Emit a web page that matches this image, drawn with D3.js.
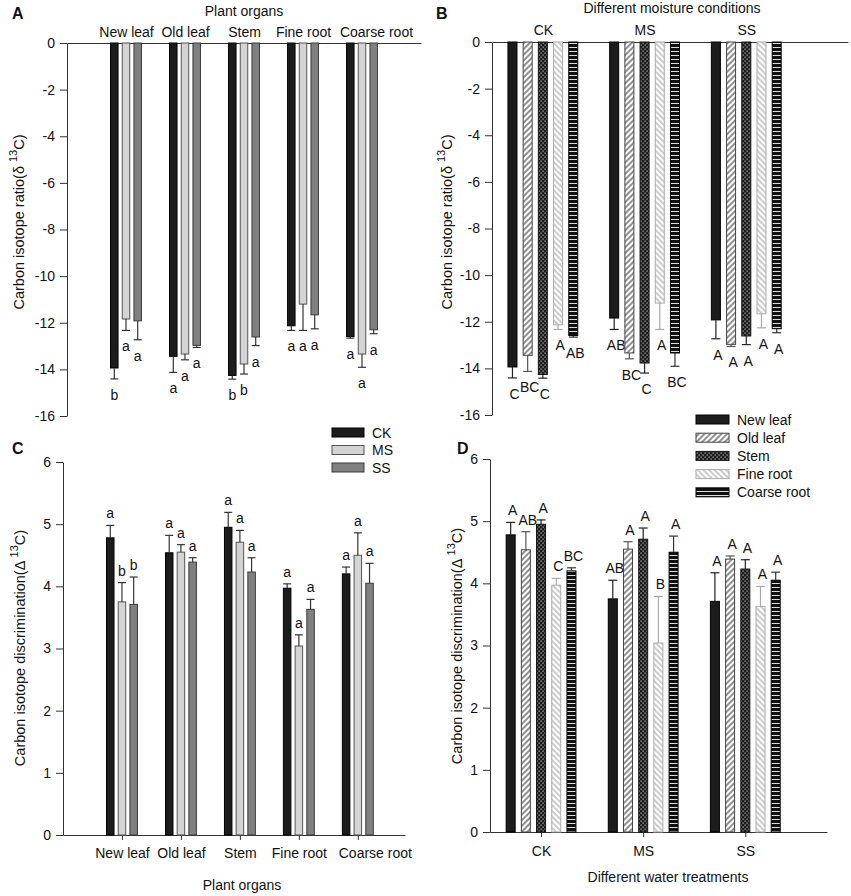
<!DOCTYPE html>
<html lang="en">
<head>
    <meta charset="UTF-8">
    <title>Carbon isotope</title>
    <script src="https://d3js.org/d3.v7.min.js"></script>
    <style>
        body { margin: 0; background: #fff; }
        text { font-family: "Liberation Sans", Arial, sans-serif; fill: #111; }
    </style>
</head>
<body>
<div id="chart"></div>
<script>

    // ---- data ----
    var organs = ["New leaf", "Old leaf", "Stem", "Fine root", "Coarse root"];
    var treatments = ["CK", "MS", "SS"];

    // rows = organ, cols = CK, MS, SS
    var delta13C = [
        [-13.94, -11.84, -11.92],
        [-13.44, -13.34, -12.97],
        [-14.26, -13.77, -12.61],
        [-12.13, -11.20, -11.66],
        [-12.59, -13.34, -12.30]
    ];
    var delta13Cse = [
        [0.47, 0.49, 0.81],
        [0.69, 0.25, 0.09],
        [0.16, 0.43, 0.37],
        [0.20, 1.13, 0.60],
        [0.07, 0.57, 0.17]
    ];
    var discrim = [
        [4.78, 3.75, 3.71],
        [4.54, 4.55, 4.39],
        [4.95, 4.71, 4.23],
        [3.97, 3.04, 3.63],
        [4.20, 4.50, 4.05]
    ];
    var discrimSeC = [
        [0.20, 0.31, 0.44],
        [0.28, 0.12, 0.07],
        [0.24, 0.19, 0.23],
        [0.07, 0.18, 0.16],
        [0.11, 0.36, 0.32]
    ];
    var discrimSeD = [
        [0.20, 0.30, 0.46],
        [0.29, 0.12, 0.05],
        [0.07, 0.18, 0.15],
        [0.11, 0.75, 0.32],
        [0.05, 0.26, 0.13]
    ];
    var lettersA = [["b","a","a"], ["a","a","a"], ["b","b","a"], ["a","a","a"], ["a","a","a"]];
    var lettersB = [["C","AB","A"], ["BC","BC","A"], ["C","C","A"], ["A","A","A"], ["AB","BC","A"]];
    var lettersC = [["a","b","b"], ["a","a","a"], ["a","a","a"], ["a","a","a"], ["a","a","a"]];
    var lettersD = [["A","AB","A"], ["AB","A","A"], ["A","A","A"], ["C","B","A"], ["BC","A","A"]];

    var ticksDelta = [0, -2, -4, -6, -8, -10, -12, -14, -16];
    var ticksDiscrim = [0, 1, 2, 3, 4, 5, 6];

    // ---- styles ----
    var trFill = ["#1c1c1c", "#d4d4d4", "#808080"];
    var trStroke = ["#000", "#555", "#3a3a3a"];
    var orgFill = ["#1c1c1c", "url(#pOld)", "url(#pStem)", "url(#pFine)", "url(#pCoarse)"];
    var orgStroke = ["#000", "#444", "#111", "#aaa", "#000"];
    var orgErr = ["#222", "#555", "#222", "#aaa", "#333"];

    var W = 851, H = 896;
    var svg = d3.select("#chart")
        .append("svg")
        .attr("width", W)
        .attr("height", H);

    var defs = svg.append("defs");

    function hatch(id, angle, color, width) {
        var p = defs.append("pattern")
            .attr("id", id)
            .attr("patternUnits", "userSpaceOnUse")
            .attr("width", 4).attr("height", 4)
            .attr("patternTransform", "rotate(" + angle + ")");
        p.append("rect").attr("width", 4).attr("height", 4).attr("fill", "#fff");
        p.append("line").attr("x1", 1).attr("y1", 0).attr("x2", 1).attr("y2", 4)
            .attr("stroke", color).attr("stroke-width", width);
    }
    hatch("pOld", 45, "#333", 1.1);
    hatch("pFine", -45, "#999", 1);

    var ps = defs.append("pattern")
        .attr("id", "pStem")
        .attr("patternUnits", "userSpaceOnUse")
        .attr("width", 4).attr("height", 4);
    ps.append("rect").attr("width", 4).attr("height", 4).attr("fill", "#1e1e1e");
    ps.append("rect").attr("x", 0.5).attr("y", 0.5).attr("width", 1.2).attr("height", 1.2).attr("fill", "#bbb");
    ps.append("rect").attr("x", 2.5).attr("y", 2.5).attr("width", 1.2).attr("height", 1.2).attr("fill", "#bbb");

    var pc = defs.append("pattern")
        .attr("id", "pCoarse")
        .attr("patternUnits", "userSpaceOnUse")
        .attr("width", 4).attr("height", 4);
    pc.append("rect").attr("width", 4).attr("height", 4).attr("fill", "#111");
    pc.append("rect").attr("y", 3).attr("width", 4).attr("height", 1).attr("fill", "#ddd");

    // ---- helpers ----
    function yAxis(g, y, ticks) {
        var ax = g.append("g")
            .attr("transform", "translate(" + y.x0 + ",0)")
            .call(d3.axisLeft(y).tickValues(ticks).tickSize(7).tickSizeOuter(0).tickPadding(5)
                .tickFormat(function (d) { return String(d); }));
        ax.selectAll("text").style("font-size", "14px").attr("font-family", null);
        ax.selectAll("line,path").attr("stroke", "#333");
    }

    function yTitle(g, x, cy, main) {
        var t = g.append("text")
            .attr("transform", "translate(" + x + "," + cy + ") rotate(-90)")
            .attr("text-anchor", "middle")
            .style("font-size", "14.5px");
        t.append("tspan").text(main + " ");
        t.append("tspan").attr("dy", -7).style("font-size", "11px").text("13");
        t.append("tspan").attr("dy", 7).text("C)");
    }

    function drawBars(g, items, y) {
        var y0 = y(0);
        var grp = g.selectAll("g.bar")
            .data(items)
            .enter()
            .append("g")
            .attr("class", "bar");

        grp.append("rect")
            .attr("x", function (d) { return d.cx - d.w / 2; })
            .attr("y", function (d) { return Math.min(y0, y(d.v)); })
            .attr("width", function (d) { return d.w; })
            .attr("height", function (d) { return Math.abs(y(d.v) - y0); })
            .attr("fill", function (d) { return d.fill; })
            .attr("stroke", function (d) { return d.stroke; })
            .attr("stroke-width", 1);

        function errEnd(d) { return d.v < 0 ? d.v - d.se : d.v + d.se; }

        grp.append("line")
            .attr("x1", function (d) { return d.cx; })
            .attr("x2", function (d) { return d.cx; })
            .attr("y1", function (d) { return y(d.v); })
            .attr("y2", function (d) { return y(errEnd(d)); })
            .attr("stroke", function (d) { return d.err; })
            .attr("stroke-width", 1.2);

        grp.append("line")
            .attr("x1", function (d) { return d.cx - d.cap / 2; })
            .attr("x2", function (d) { return d.cx + d.cap / 2; })
            .attr("y1", function (d) { return y(errEnd(d)); })
            .attr("y2", function (d) { return y(errEnd(d)); })
            .attr("stroke", function (d) { return d.err; })
            .attr("stroke-width", 1.2);

        grp.append("text")
            .attr("x", function (d) { return d.cx + (d.lx || 0); })
            .attr("y", function (d) {
                return d.v < 0 ? y(errEnd(d)) + 21 : y(errEnd(d)) - 7;
            })
            .attr("text-anchor", "middle")
            .style("font-size", "14px")
            .text(function (d) { return d.letter; });
    }

    function panelLetter(x, y, s) {
        svg.append("text").attr("x", x).attr("y", y)
            .style("font-size", "16px").style("font-weight", "bold").text(s);
    }

    // ===== Panel A =====
    var gA = svg.append("g");
    var xA = d3.scaleLinear().domain([0, 6]).range([67, 421]);
    var yA = d3.scaleLinear().domain([0, -16]).range([43, 416]);
    yA.x0 = 67;
    yAxis(gA, yA, ticksDelta);
    var topA = gA.append("g")
        .attr("transform", "translate(0," + yA(0) + ")")
        .call(d3.axisTop(xA).tickValues([1, 2, 3, 4, 5]).tickSize(0).tickSizeOuter(0).tickPadding(6)
            .tickFormat(function (i) { return organs[i - 1]; }));
    topA.selectAll("text").style("font-size", "14px").attr("font-family", null)
        .attr("dx", function (i) { return i === 5 ? 14 : 0; });
    topA.select("path").attr("stroke", "#333");

    var itemsA = [];
    organs.forEach(function (o, i) {
        treatments.forEach(function (t, j) {
            itemsA.push({
                cx: xA(i + 1) + (j - 1) * 11.7, w: 7.5, cap: 8,
                v: delta13C[i][j], se: delta13Cse[i][j],
                fill: trFill[j], stroke: trStroke[j], err: "#333",
                letter: lettersA[i][j]
            });
        });
    });
    drawBars(gA, itemsA, yA);
    yTitle(gA, 24, 222, "Carbon isotope ratio(δ");
    gA.append("text").attr("x", xA(3)).attr("y", 16).attr("text-anchor", "middle")
        .style("font-size", "14px").text("Plant organs");
    panelLetter(12, 19, "A");

    // ===== Panel B =====
    var gB = svg.append("g");
    var xB = d3.scaleLinear().domain([0.5, 4]).range([492, 848]);
    var yB = d3.scaleLinear().domain([0, -16]).range([42, 415]);
    yB.x0 = 492;
    yAxis(gB, yB, ticksDelta);
    var topB = gB.append("g")
        .attr("transform", "translate(0," + yB(0) + ")")
        .call(d3.axisTop(xB).tickValues([1, 2, 3]).tickSize(0).tickSizeOuter(0).tickPadding(7)
            .tickFormat(function (i) { return treatments[i - 1]; }));
    topB.selectAll("text").style("font-size", "14px").attr("font-family", null);
    topB.select("path").attr("stroke", "#333");

    var itemsB = [];
    treatments.forEach(function (t, j) {
        organs.forEach(function (o, i) {
            itemsB.push({
                cx: xB(j + 1) + (i - 2) * 15.2, w: 9, cap: 9,
                v: delta13C[i][j], se: delta13Cse[i][j],
                fill: orgFill[i], stroke: orgStroke[i], err: orgErr[i],
                letter: lettersB[i][j], lx: 2
            });
        });
    });
    drawBars(gB, itemsB, yB);
    yTitle(gB, 452, 222, "Carbon isotope ratio(δ");
    gB.append("text").attr("x", 672).attr("y", 13).attr("text-anchor", "middle")
        .style("font-size", "14px").text("Different moisture conditions");
    panelLetter(436, 19, "B");

    // ===== Panel C =====
    var gC = svg.append("g");
    var xC = d3.scaleLinear().domain([0, 5.8]).range([63, 405]);
    var yC = d3.scaleLinear().domain([0, 6]).range([835, 462]);
    yC.x0 = 63;
    yAxis(gC, yC, ticksDiscrim);
    var botC = gC.append("g")
        .attr("transform", "translate(0," + yC(0) + ")")
        .call(d3.axisBottom(xC).tickValues([1, 2, 3, 4, 5]).tickSize(5).tickSizeOuter(0).tickPadding(8)
            .tickFormat(function (i) { return organs[i - 1]; }));
    botC.selectAll("text").style("font-size", "14px").attr("font-family", null)
        .attr("dx", function (i) { return i === 5 ? 17 : 0; });
    botC.selectAll("line,path").attr("stroke", "#333");

    var itemsC = [];
    organs.forEach(function (o, i) {
        treatments.forEach(function (t, j) {
            itemsC.push({
                cx: xC(i + 1) + (j - 1) * 11.7, w: 7.5, cap: 8,
                v: discrim[i][j], se: discrimSeC[i][j],
                fill: trFill[j], stroke: trStroke[j], err: "#333",
                letter: lettersC[i][j]
            });
        });
    });
    drawBars(gC, itemsC, yC);
    yTitle(gC, 25, 648, "Carbon isotope discrimination(Δ");
    gC.append("text").attr("x", 242).attr("y", 890).attr("text-anchor", "middle")
        .style("font-size", "14px").text("Plant organs");
    panelLetter(12, 454, "C");

    // legend C
    var legC = gC.append("g");
    treatments.forEach(function (t, j) {
        legC.append("rect").attr("x", 332).attr("y", 428 + j * 17.5)
            .attr("width", 32).attr("height", 9)
            .attr("fill", trFill[j]).attr("stroke", trStroke[j]);
        legC.append("text").attr("x", 372).attr("y", 437.5 + j * 17.5)
            .style("font-size", "14px").text(t);
    });

    // ===== Panel D =====
    var gD = svg.append("g");
    var xD = d3.scaleLinear().domain([0.5, 3.8]).range([490, 827]);
    var yD = d3.scaleLinear().domain([0, 6]).range([832, 459]);
    yD.x0 = 490;
    yAxis(gD, yD, ticksDiscrim);
    var botD = gD.append("g")
        .attr("transform", "translate(0," + yD(0) + ")")
        .call(d3.axisBottom(xD).tickValues([1, 2, 3]).tickSize(5).tickSizeOuter(0).tickPadding(9)
            .tickFormat(function (i) { return treatments[i - 1]; }));
    botD.selectAll("text").style("font-size", "14px").attr("font-family", null);
    botD.selectAll("line,path").attr("stroke", "#333");

    var itemsD = [];
    treatments.forEach(function (t, j) {
        organs.forEach(function (o, i) {
            itemsD.push({
                cx: xD(j + 1) + (i - 2) * 15.2, w: 9, cap: 9,
                v: discrim[i][j], se: discrimSeD[i][j],
                fill: orgFill[i], stroke: orgStroke[i], err: orgErr[i],
                letter: lettersD[i][j], lx: 2
            });
        });
    });
    drawBars(gD, itemsD, yD);
    yTitle(gD, 462, 646, "Carbon isotope discrimination(Δ");
    gD.append("text").attr("x", 668).attr("y", 882).attr("text-anchor", "middle")
        .style("font-size", "14px").text("Different water treatments");
    panelLetter(457, 454, "D");

    // legend D
    var legD = gD.append("g");
    organs.forEach(function (o, i) {
        legD.append("rect").attr("x", 696).attr("y", 415 + i * 18.2)
            .attr("width", 33).attr("height", 9)
            .attr("fill", orgFill[i]).attr("stroke", orgStroke[i]);
        legD.append("text").attr("x", 737).attr("y", 424.5 + i * 18.2)
            .style("font-size", "14px").text(o);
    });

</script>
</body>
</html>
